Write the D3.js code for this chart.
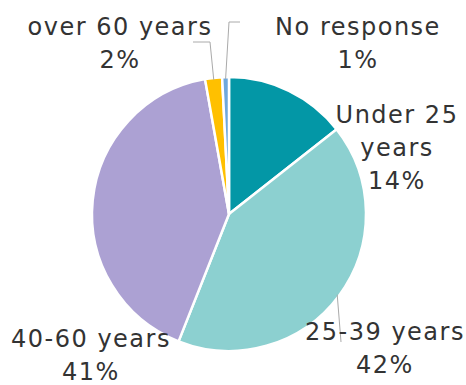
<!DOCTYPE html>
<html>
<head>
<meta charset="utf-8">
<script src="https://cdn.jsdelivr.net/npm/d3@7"></script>
<style>
  html, body { margin: 0; padding: 0; background: #fff; }
  svg { display: block; }
  text { font-family: "DejaVu Sans", "Open Sans", sans-serif; fill: #333; }
</style>
</head>
<body>
<div id="chart"></div>
<script>
// Data
const categories = ["Under 25 years", "25-39 years", "40-60 years", "over 60 years", "No response"];
const values = [14.4, 41.6, 41.2, 2.0, 0.8];
const percentLabels = ["14%", "42%", "41%", "2%", "1%"];
const colors = ["#0397A6", "#8CD0D0", "#ACA1D3", "#FFC000", "#6FA8DC"];

// Layout (label placement)
const labelLayout = {
  "Under 25 years": { x: 397, y: 123, lines: ["Under 25", "years"], leader: null },
  "25-39 years":    { x: 385, y: 340, lines: ["25-39 years"], leader: [[341, 342]] },
  "40-60 years":    { x: 91,  y: 347, lines: ["40-60 years"], leader: null },
  "over 60 years":  { x: 120, y: 35,  lines: ["over 60 years"], leader: [[210, 42], [193, 42]] },
  "No response":    { x: 358, y: 35,  lines: ["No response"], leader: [[229, 22], [240, 22]] }
};

const W = 466, H = 385;
const cx = 229, cy = 214, R = 137;
const lineH = 33;

const svg = d3.select("#chart").append("svg").attr("width", W).attr("height", H);

const data = categories.map((c, i) => ({ cat: c, value: values[i], pct: percentLabels[i], color: colors[i] }));
const pie = d3.pie().sort(null).value(d => d.value);
const arcs = pie(data);
const arc = d3.arc().innerRadius(0).outerRadius(R);

const g = svg.append("g").attr("transform", `translate(${cx},${cy})`);
g.selectAll("path.slice").data(arcs).join("path")
  .attr("class", "slice")
  .attr("d", arc)
  .attr("fill", d => d.data.color)
  .attr("stroke", "#fff")
  .attr("stroke-width", 2.5)
  .attr("stroke-linejoin", "round");

// leader lines
arcs.forEach(a => {
  const lay = labelLayout[a.data.cat];
  if (!lay.leader) return;
  const mid = (a.startAngle + a.endAngle) / 2;
  const start = [cx + (R - 2) * Math.sin(mid), cy - (R - 2) * Math.cos(mid)];
  const pts = [start].concat(lay.leader);
  svg.append("path")
    .attr("d", d3.line()(pts))
    .attr("fill", "none")
    .attr("stroke", "#AAAAAA")
    .attr("stroke-width", 1);
});

// labels
arcs.forEach(a => {
  const lay = labelLayout[a.data.cat];
  const lines = lay.lines.concat([a.data.pct]);
  const t = svg.append("text")
    .attr("text-anchor", "middle")
    .attr("font-size", 24)
    .attr("letter-spacing", 1.5);
  lines.forEach((ln, i) => {
    t.append("tspan").attr("x", lay.x).attr("y", lay.y + i * lineH).text(ln);
  });
});
</script>
</body>
</html>
